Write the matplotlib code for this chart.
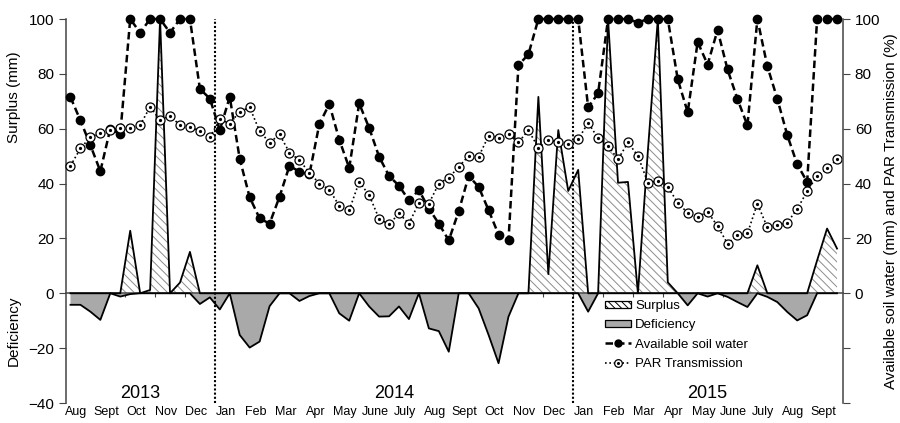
import numpy as np
import matplotlib.pyplot as plt
from matplotlib.patches import Patch
from matplotlib.lines import Line2D
from matplotlib.transforms import blended_transform_factory

plt.rcParams['font.family'] = ['Liberation Sans', 'DejaVu Sans']
plt.rcParams['hatch.linewidth'] = 0.7

# one value per dekad (10-day period), Aug 2013 - Sept 2015
soil_water = [71.5, 63, 54, 44.5, 60, 58, 100, 95, 100, 100, 95, 100, 100, 74.5, 71,
              59.5, 71.6, 49, 35, 27.3, 25.4, 35.2, 46.5, 44.3, 43.4, 61.7, 69, 56,
              45.7, 69.2, 60.3, 49.8, 42.8, 39.2, 33.9, 37.6, 30.9, 25.4, 19.3, 29.9,
              42.8, 38.8, 30.3, 21.4, 19.3, 83.2, 87.1, 100, 100, 100, 100, 100,
              67.8, 72.9, 100, 100, 100, 98.7, 100, 100, 100, 78, 66, 91.6, 83.4, 96,
              81.6, 70.8, 61.2, 100, 82.8, 70.9, 57.7, 47, 40.6, 100, 100, 100]
par_transmission = [46.5, 52.8, 57, 58.3, 59.5, 60.3, 60.1, 61.3, 68, 63.1, 64.7, 61.3,
                    60.7, 59.2, 56.8, 63.4, 61.9, 66.2, 67.8, 59.1, 54.9, 57.9, 51.3,
                    48.5, 44, 40, 37.8, 31.9, 30.3, 40.6, 35.8, 27.2, 25.1, 29.1, 25.4,
                    33, 32.7, 40, 42.1, 46.1, 50.1, 49.8, 57.4, 56.7, 58, 55, 59.5, 53,
                    55.8, 55.2, 54.4, 56.1, 62.2, 56.5, 53.8, 48.8, 55, 50.1, 40.3, 40.9,
                    38.8, 33, 29.3, 27.8, 29.7, 24.5, 18.1, 21.2, 21.8, 32.7, 24, 24.8,
                    25.8, 30.7, 37.2, 42.8, 45.5, 48.8]
surplus = [0, 0, 0, 0, 0, 0, 22.8, 0, 1.2, 100, 0, 3.9, 15.1, 0, 0,
           0, 0, 0, 0, 0, 0, 0, 0, 0, 0, 0, 0, 0, 0, 0, 0, 0, 0, 0, 0, 0,
           0, 0, 0, 0, 0, 0, 0, 0, 0, 0, 0, 71.6, 7, 59.5, 37.3, 45,
           0, 0, 100, 40.3, 40.6, 0, 52, 100, 4, 0, 0, 0, 0, 0, 0, 0, 0,
           10.2, 0, 0, 0, 0, 0, 12, 23.6, 16.3]
deficiency = [-4.2, -4.2, -6.7, -9.7, 0, -1.2, -0.3, 0, 0, 0, 0, 0, 0, -3.9, -1.5,
              -5.9, 0, -15.2, -19.8, -17.6, -4.7, 0, 0, -2.8, -1, 0, 0, -7.3, -10,
              0, -4.8, -8.5, -8.4, -4.8, -9.4, 0, -12.8, -13.8, -21.3, 0, 0, -5.5,
              -15.2, -25.5, -8.5, 0, 0, 0, 0, 0, 0, 0,
              -6.7, 0, 0, 0, 0, 0, 0, 0, 0, 0, -4.4, 0, -1.2, 0, -1.3, -3.2, -5,
              0, -1.3, -3.2, -6.8, -9.9, -8, 0, 0, 0]

months = ['Aug', 'Sept', 'Oct', 'Nov', 'Dec',
          'Jan', 'Feb', 'Mar', 'Apr', 'May', 'June', 'July', 'Aug', 'Sept', 'Oct', 'Nov', 'Dec',
          'Jan', 'Feb', 'Mar', 'Apr', 'May', 'June', 'July', 'Aug', 'Sept']
years = ['2013', '2014', '2015']
months_per_year = [5, 12, 9]

x = np.arange(len(soil_water))

fig = plt.figure(figsize=(9, 4.23), dpi=100)
ax = fig.add_axes([66 / 900, 20 / 423, 777 / 900, 384 / 423])

# ---------------------------------------------------------- water balance
ax.fill_between(x, 0, surplus, facecolor='white', edgecolor='#8c8c8c',
                hatch='\\\\\\\\', linewidth=0, zorder=2)
ax.plot(x, surplus, color='black', lw=1.3, zorder=3)
ax.fill_between(x, 0, deficiency, facecolor='#a9a9a9', edgecolor='none', zorder=2)
ax.plot(x, deficiency, color='black', lw=1.3, zorder=3)

# year dividers
dekads_per_year = np.cumsum(months_per_year) * 3
for b in dekads_per_year[:-1]:
    ax.axvline(b - 0.5, color='black', lw=1.5, ls=(0, (1, 1)), zorder=4)

# ------------------------------------------------------------------ lines
ax.plot(x, soil_water, color='black', lw=1.8, ls=(0, (3, 1.6)), marker='o',
        ms=6, mfc='black', mec='black', zorder=5, clip_on=False)
ax.plot(x, par_transmission, color='black', lw=1.2, ls=(0, (1, 1.6)), marker='o',
        ms=6.5, mfc='white', mec='black', mew=0.9, zorder=5, clip_on=False)
ax.plot(x, par_transmission, ls='none', marker='o', ms=1.3, color='black', zorder=6)

# ------------------------------------------------------------------- axes
ax.set_xlim(-0.45, 77.6)
ax.set_ylim(-40, 100)
ax.spines['top'].set_visible(False)
ax.spines['right'].set_visible(False)
ax.spines['bottom'].set_position(('data', 0))
for s in ['left', 'bottom']:
    ax.spines[s].set_color('#444444')
    ax.spines[s].set_linewidth(1.1)

ax.set_xticks(np.arange(1, len(months)) * 3 - 0.5)
ax.tick_params(axis='x', direction='out', length=3, labelbottom=False, color='#444444')
ax.set_yticks(np.arange(-40, 101, 20))
ax.tick_params(axis='y', direction='out', length=5, labelsize=11, color='#444444')

ax2 = ax.twinx()
ax2.set_ylim(-40, 100)
for s in ['top', 'bottom', 'left']:
    ax2.spines[s].set_visible(False)
ax2.spines['right'].set_color('#444444')
ax2.spines['right'].set_linewidth(1.1)
ticks = np.arange(-40, 101, 20)
ax2.set_yticks(ticks)
ax2.set_yticklabels([str(t) if t >= 0 else '' for t in ticks])
ax2.tick_params(axis='y', direction='out', length=5, labelsize=11, color='#444444')
ax2.set_ylabel('Available soil water (mm) and PAR Transmission (%)', fontsize=11, labelpad=3)

tr = blended_transform_factory(ax.transAxes, ax.transData)
ax.text(-0.067, 71.5, 'Surplus (mm)', rotation=90, transform=tr,
        ha='center', va='center', fontsize=11)
ax.text(-0.067, -13.5, 'Deficiency', rotation=90, transform=tr,
        ha='center', va='center', fontsize=11)

# month and year labels
for m, name in enumerate(months):
    ax.text(3 * m + 1 - 0.4, -43.4, name, ha='center', va='center',
            fontsize=9, clip_on=False)
start = 0
for yr, n in zip(years, months_per_year):
    end = start + n * 3
    ax.text((start + end - 1) / 2, -36.5, yr, ha='center', va='center', fontsize=13)
    start = end

# ----------------------------------------------------------------- legend
handles = [
    Patch(facecolor='white', edgecolor='black', hatch='\\\\\\\\\\', lw=0.9),
    Patch(facecolor='#a9a9a9', edgecolor='black', lw=0.9),
    Line2D([], [], color='black', lw=1.8, ls=(0, (3, 1.6)), marker='o', ms=5),
    (Line2D([], [], color='black', lw=1.2, ls=(0, (1, 1.6)), marker='o', ms=5.5,
            mfc='white', mew=0.9),
     Line2D([], [], ls='none', marker='o', ms=1.2, color='black')),
]
labels = ['Surplus', 'Deficiency', 'Available soil water', 'PAR Transmission']
fig.legend(handles, labels, loc='upper left', bbox_to_anchor=(605 / 900, 1 - 300 / 423),
           frameon=False, fontsize=9.5, handlelength=2.0, handleheight=0.5,
           handletextpad=0.3, labelspacing=0.55, borderpad=0, borderaxespad=0)

fig.savefig('out.png', dpi=100)
